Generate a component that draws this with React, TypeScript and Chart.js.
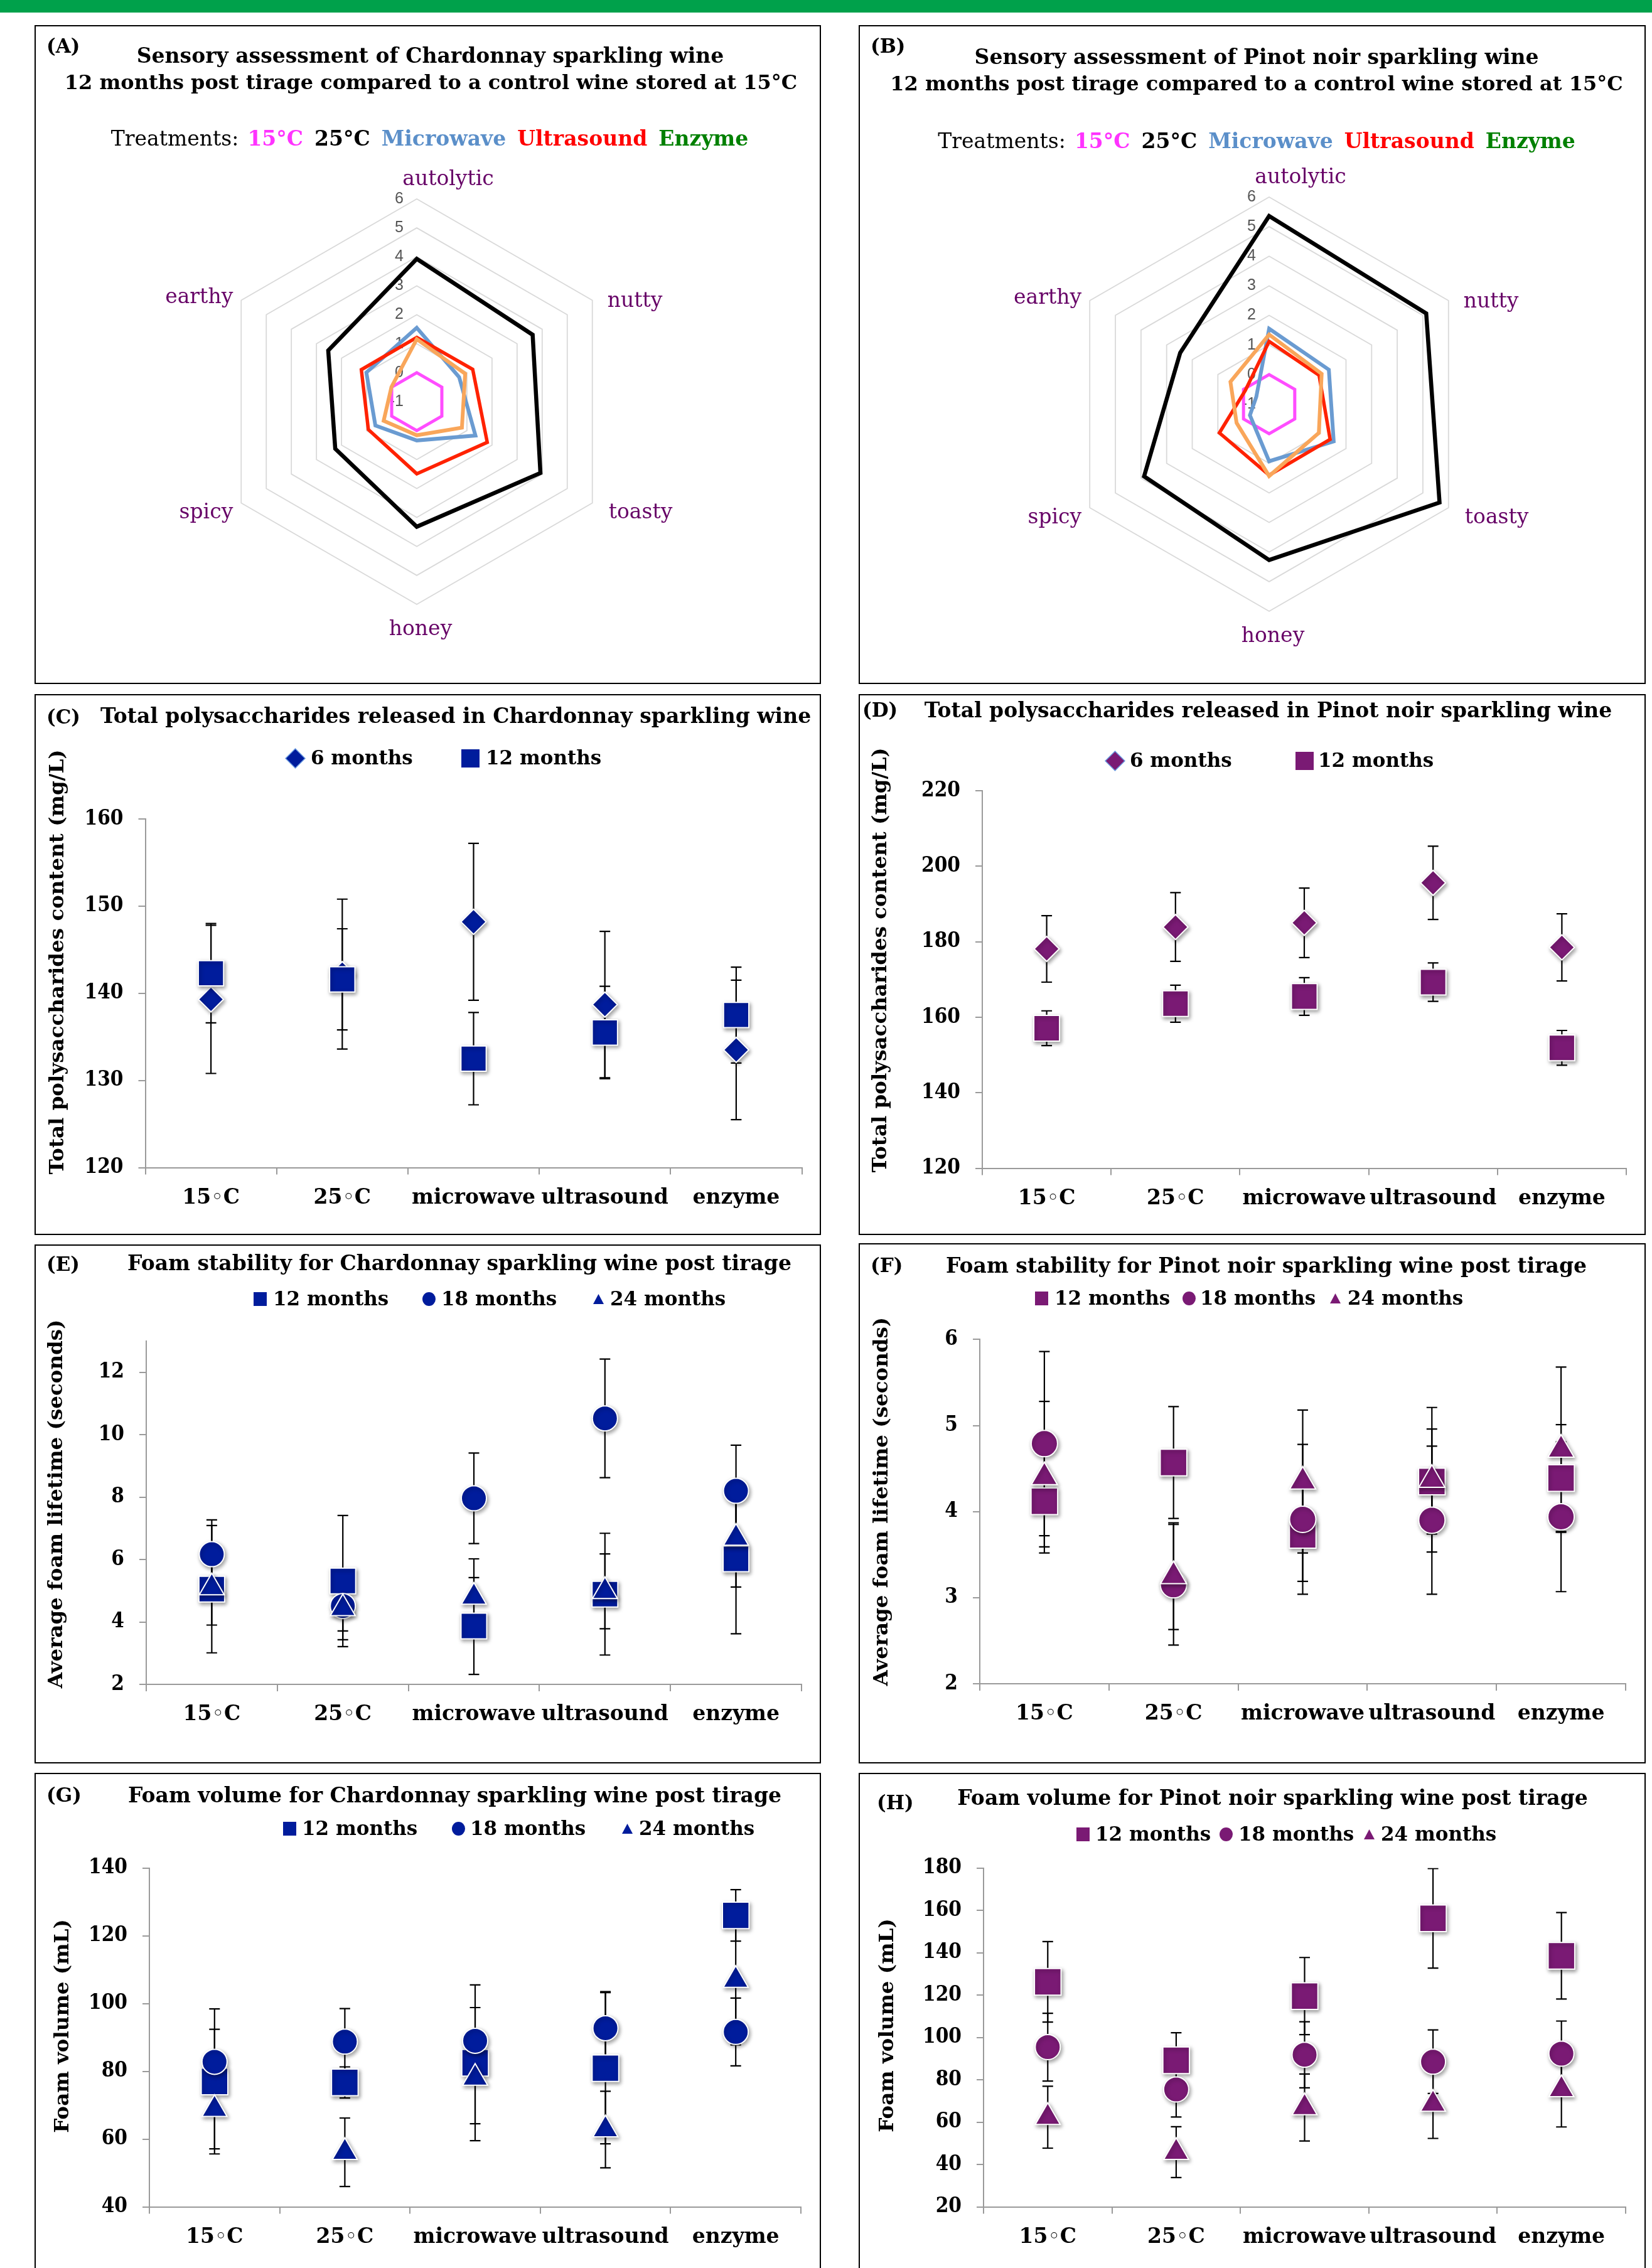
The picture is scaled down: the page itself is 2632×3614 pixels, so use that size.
import React, { useEffect, useRef } from 'react';
import { Chart, registerables } from 'chart.js';

Chart.register(...registerables);

if (typeof document !== 'undefined' && document.body) document.body.style.margin = '0';

// ================= DATA =================
const sensoryAttributes = ['autolytic', 'nutty', 'toasty', 'honey', 'spicy', 'earthy'];
const radarMin = -1;
const radarMax = 6;
const treatmentNames = ['15°C', '25°C', 'Microwave', 'Ultrasound', 'Enzyme'];

// (A) Chardonnay sensory scores
const chard15C = [0, 0, 0, 0, 0, 0];
const chard25C = [3.93, 3.62, 3.93, 3.32, 2.25, 2.53];
const chardMicrowave = [1.55, 0.69, 1.34, 0.34, 0.65, 1.01];
const chardUltrasound = [1.22, 1.23, 1.81, 1.49, 0.93, 1.21];
const chardEnzyme = [1.16, 0.93, 0.8, 0.16, 0.32, 0.01];

// (B) Pinot noir sensory scores
const pinot15C = [0, 0, 0, 0, 0, 0];
const pinot25C = [5.36, 5.13, 5.65, 4.27, 3.88, 2.47];
const pinotMicrowave = [1.55, 1.33, 1.52, 0.93, -0.25, -0.5];
const pinotUltrasound = [1.12, 0.95, 1.38, 1.4, 0.94, -0.07];
const pinotEnzyme = [1.35, 1.05, 0.94, 1.43, 0.27, 0.51];

const treatments = ['15◦C', '25◦C', 'microwave', 'ultrasound', 'enzyme'];

// (C) Chardonnay total polysaccharides (mg/L)
const chardPoly6m = [139.3, 142.2, 148.2, 138.7, 133.5];
const chardPoly6mErr = [8.5, 8.6, 9.0, 8.4, 8.0];
const chardPoly12m = [142.3, 141.6, 132.5, 135.5, 137.5];
const chardPoly12mErr = [5.7, 5.8, 5.3, 5.3, 5.5];

// (D) Pinot noir total polysaccharides (mg/L)
const pinotPoly6m = [178.1, 183.9, 185.0, 195.6, 178.5];
const pinotPoly6mErr = [8.8, 9.1, 9.2, 9.7, 8.9];
const pinotPoly12m = [157.1, 163.6, 165.5, 169.3, 151.9];
const pinotPoly12mErr = [4.6, 4.9, 5.0, 5.1, 4.6];

// (E) Chardonnay foam stability (s)
const chardStab12m = [5.05, 5.31, 3.87, 4.89, 6.02];
const chardStab12mErr = [2.04, 2.1, 1.55, 1.95, 2.4];
const chardStab18m = [6.17, 4.51, 7.96, 10.52, 8.2];
const chardStab18mErr = [1.1, 0.8, 1.45, 1.9, 1.46];
const chardStab24m = [5.1, 4.43, 4.8, 4.98, 6.69];
const chardStab24mErr = [1.2, 1.0, 1.22, 1.2, 1.57];

// (F) Pinot noir foam stability (s)
const pinotStab12m = [4.12, 4.57, 3.73, 4.35, 4.39];
const pinotStab12mErr = [0.53, 0.65, 0.54, 0.61, 0.62];
const pinotStab18m = [4.79, 3.15, 3.91, 3.9, 3.94];
const pinotStab18mErr = [1.07, 0.7, 0.87, 0.86, 0.87];
const pinotStab24m = [4.4, 3.25, 4.35, 4.37, 4.72];
const pinotStab24mErr = [0.88, 0.62, 0.83, 0.84, 0.96];

// (G) Chardonnay foam volume (mL)
const chardVol12m = [77.0, 76.7, 82.5, 80.9, 126.0];
const chardVol12mErr = [21.4, 4.6, 23.0, 22.3, 7.6];
const chardVol18m = [82.8, 88.75, 89.0, 92.7, 91.6];
const chardVol18mErr = [9.6, 9.75, 9.8, 10.8, 10.0];
const chardVol24m = [68.8, 56.1, 78.0, 62.8, 106.9];
const chardVol24mErr = [11.7, 10.1, 13.5, 11.3, 19.1];

// (H) Pinot noir foam volume (mL)
const pinotVol12m = [126.2, 89.2, 119.5, 156.2, 138.5];
const pinotVol12mErr = [19.0, 13.0, 18.2, 23.5, 20.4];
const pinotVol18m = [95.4, 75.4, 91.8, 88.5, 92.3];
const pinotVol18mErr = [16.0, 13.0, 15.6, 15.0, 15.4];
const pinotVol24m = [62.3, 45.8, 66.9, 68.5, 75.4];
const pinotVol24mErr = [14.6, 12.0, 15.8, 16.2, 17.7];

// ================= STYLE =================
const SERIF = "'DejaVu Serif', serif";
const SERIF_COND = "'DejaVu Serif Condensed', 'DejaVu Serif', serif";
const BLUE = '#001c9c';
const PURPLE = '#7a1a74';
const AXIS_GRAY = '#9a9a9a';
const radarColors = ['#ff4dff', '#000000', '#6a9bd1', '#ff2200', '#f9a65a'];
const radarWidths = [5, 6.5, 6, 5.5, 6];
const treatmentTextColors = ['#ff33ff', '#000000', '#5b8fc9', '#ff0000', '#008000'];

// ================= PLUGINS =================
const errorBarPlugin = {
  id: 'errorBars',
  beforeDatasetsDraw(chart: any) {
    const ctx = chart.ctx;
    const yScale = chart.scales.y;
    const a = chart.chartArea;
    ctx.save();
    ctx.beginPath();
    ctx.rect(a.left - 20, a.top, a.right - a.left + 40, a.bottom - a.top);
    ctx.clip();
    ctx.strokeStyle = '#000';
    ctx.lineWidth = 2.2;
    chart.data.datasets.forEach((ds: any, di: number) => {
      const errs = ds.errors;
      if (!errs) return;
      const meta = chart.getDatasetMeta(di);
      meta.data.forEach((pt: any, i: number) => {
        const v = ds.data[i];
        const e = errs[i];
        const x = pt.x;
        const y1 = yScale.getPixelForValue(v + e);
        const y2 = yScale.getPixelForValue(v - e);
        ctx.beginPath();
        ctx.moveTo(x, y1);
        ctx.lineTo(x, y2);
        ctx.moveTo(x - 8.5, y1);
        ctx.lineTo(x + 8.5, y1);
        ctx.moveTo(x - 8.5, y2);
        ctx.lineTo(x + 8.5, y2);
        ctx.stroke();
      });
    });
    ctx.restore();
  },
};

const shadowPlugin = {
  id: 'markerShadow',
  beforeDatasetDraw(chart: any) {
    const ctx = chart.ctx;
    ctx.save();
    ctx.shadowColor = 'rgba(0,0,0,0.38)';
    ctx.shadowBlur = 6;
    ctx.shadowOffsetX = 2;
    ctx.shadowOffsetY = 3;
  },
  afterDatasetDraw(chart: any) {
    chart.ctx.restore();
  },
};

// y-axis title drawn along the y scale, centred with a small shift
const yTitlePlugin = {
  id: 'yTitle',
  afterDraw(chart: any, _args: any, opts: any) {
    const s = chart.scales.y;
    const a = chart.chartArea;
    const ctx = chart.ctx;
    ctx.save();
    ctx.translate(s.left + 18, (a.top + a.bottom) / 2 + (opts.shift || 0));
    ctx.rotate(-Math.PI / 2);
    ctx.font = `bold ${opts.size}px ${SERIF}`;
    ctx.fillStyle = '#000';
    ctx.textAlign = 'center';
    ctx.textBaseline = 'middle';
    ctx.fillText(opts.text, 0, 0);
    ctx.restore();
  },
};

const radarTextPlugin = {
  id: 'radarText',
  beforeDatasetsDraw(chart: any) {
    const s = chart.scales.r;
    const ctx = chart.ctx;
    ctx.save();
    ctx.font = "25px 'Liberation Sans', sans-serif";
    ctx.fillStyle = '#555555';
    ctx.textAlign = 'right';
    ctx.textBaseline = 'middle';
    s.ticks.forEach((t: any) => {
      const p = s.getPointPositionForValue(0, t.value);
      ctx.fillText(String(t.value), p.x - 21, p.y);
    });
    ctx.restore();
  },
  afterDatasetsDraw(chart: any) {
    const s = chart.scales.r;
    const ctx = chart.ctx;
    ctx.save();
    ctx.font = "33px 'DejaVu Serif', serif";
    ctx.fillStyle = '#660066';
    ctx.textBaseline = 'middle';
    (chart.data.labels as string[]).forEach((lab, i) => {
      const v = s.getPointPosition(i, s.drawingArea);
      let x = v.x;
      let y = v.y;
      let align: CanvasTextAlign = 'center';
      if (i === 0) { x += 50; y -= 31; }
      else if (i === 1) { x += 24; y += 2; align = 'left'; }
      else if (i === 2) { x += 26; y += 16; align = 'left'; }
      else if (i === 3) { x += 6; y += 40; }
      else if (i === 4) { x -= 13; y += 16; align = 'right'; }
      else { x -= 13; y -= 4; align = 'right'; }
      ctx.textAlign = align;
      ctx.fillText(lab, x, y);
    });
    ctx.restore();
  },
};

// ================= CONFIG BUILDERS =================
interface RadarSpec {
  x: number; y: number; w: number; h: number;
  pad: { left: number; top: number; right: number; bottom: number };
  series: number[][];
}

function radarConfig(spec: RadarSpec): any {
  return {
    type: 'radar',
    data: {
      labels: sensoryAttributes,
      datasets: spec.series.map((vals, i) => ({
        label: treatmentNames[i],
        data: vals,
        borderColor: radarColors[i],
        borderWidth: radarWidths[i],
        borderJoinStyle: 'miter',
        backgroundColor: 'transparent',
        fill: false,
        pointRadius: 0,
        tension: 0,
        order: spec.series.length - i,
      })),
    },
    options: {
      animation: false,
      responsive: false,
      events: [],
      layout: { padding: spec.pad },
      plugins: { legend: { display: false }, tooltip: { enabled: false }, title: { display: false } },
      scales: {
        r: {
          min: radarMin,
          max: radarMax,
          ticks: { stepSize: 1, display: false },
          grid: { color: '#d9d9d9', lineWidth: 1.8 },
          angleLines: { display: false },
          pointLabels: { display: false },
        },
      },
    },
    plugins: [radarTextPlugin],
  };
}

interface Series { label: string; values: number[]; errors: number[]; shape: string; radius: number }
interface ScatterSpec {
  x: number; y: number; w: number; h: number;
  pl: number; pt: number; pr: number; wY: number; hX: number;
  yMin: number; yMax: number; yStep: number; yTitle: string; titleShift: number; color: string;
  evenOnly?: boolean;
  series: Series[];
}

function scatterConfig(spec: ScatterSpec): any {
  return {
    type: 'line',
    data: {
      labels: treatments,
      datasets: spec.series.map((s, i) => ({
        label: s.label,
        data: s.values,
        errors: s.errors,
        showLine: false,
        pointStyle: s.shape,
        pointRadius: s.radius,
        pointHoverRadius: s.radius,
        pointBackgroundColor: spec.color,
        pointBorderColor: '#ffffff',
        pointBorderWidth: 2,
        borderColor: spec.color,
        backgroundColor: spec.color,
        order: spec.series.length - i,
      })),
    },
    options: {
      animation: false,
      responsive: false,
      events: [],
      layout: { padding: { left: spec.pl, top: spec.pt, right: spec.pr, bottom: 0 } },
      plugins: {
        legend: { display: false },
        tooltip: { enabled: false },
        title: { display: false },
        yTitle: { text: spec.yTitle, size: 32.5, shift: spec.titleShift },
      },
      scales: {
        x: {
          type: 'category',
          offset: true,
          grid: { display: true, drawOnChartArea: false, drawTicks: true, tickLength: 11, color: AXIS_GRAY, lineWidth: 2, offset: true },
          border: { display: true, color: AXIS_GRAY, width: 2 },
          ticks: { color: '#000', font: { family: SERIF, size: 33, weight: 'bold' }, padding: 18, maxRotation: 0, autoSkip: false },
          afterFit: (sc: any) => { sc.height = spec.hX; },
        },
        y: {
          min: spec.yMin,
          max: spec.yMax,
          ticks: { stepSize: spec.yStep, color: '#000', font: { family: SERIF_COND, size: 33, weight: 'bold' }, padding: 24 },
          afterBuildTicks: (sc: any) => {
            if (spec.evenOnly) sc.ticks = sc.ticks.filter((t: any) => t.value % 2 === 0);
          },
          grid: { display: true, drawOnChartArea: false, drawTicks: true, tickLength: 11, color: AXIS_GRAY, lineWidth: 2 },
          border: { display: true, color: AXIS_GRAY, width: 2 },
          title: { display: false },
          afterFit: (sc: any) => { sc.width = spec.wY; },
        },
      },
    },
    plugins: [errorBarPlugin, shadowPlugin, yTitlePlugin],
  };
}

// ================= COMPONENTS =================
function ChartCanvas({ x, y, w, h, config }: { x: number; y: number; w: number; h: number; config: () => any }) {
  const ref = useRef<HTMLCanvasElement>(null);
  useEffect(() => {
    const chart = new Chart(ref.current as HTMLCanvasElement, config());
    return () => chart.destroy();
  }, []);
  return <canvas ref={ref} width={w} height={h} style={{ position: 'absolute', left: x, top: y, width: w, height: h }} />;
}

function Txt({ x, y, size, children, align = 'left', weight = 'bold', color = '#000', family = SERIF }: any) {
  const lh = size * 1.2;
  const style: any = {
    position: 'absolute', top: y - lh / 2, height: lh, lineHeight: lh + 'px', fontSize: size,
    fontFamily: family, fontWeight: weight, color, whiteSpace: 'nowrap',
  };
  if (align === 'center') { style.left = x - 1500; style.width = 3000; style.textAlign = 'center'; }
  else style.left = x;
  return <div style={style}>{children}</div>;
}

function Marker({ cx, cy, shape, w, h, color, stroke }: any) {
  let el: any;
  if (shape === 'rect') el = <rect x={1} y={1} width={w} height={h} fill={color} />;
  else if (shape === 'circle') el = <ellipse cx={1 + w / 2} cy={1 + h / 2} rx={w / 2} ry={h / 2} fill={color} />;
  else if (shape === 'triangle') el = <polygon points={`${1 + w / 2},1 ${1 + w},${1 + h} 1,${1 + h}`} fill={color} />;
  else el = <polygon points={`${1 + w / 2},1 ${1 + w},${1 + h / 2} ${1 + w / 2},${1 + h} 1,${1 + h / 2}`} fill={color} stroke={stroke || 'none'} strokeWidth={1.5} />;
  return (
    <svg width={w + 2} height={h + 2} style={{ position: 'absolute', left: cx - w / 2 - 1, top: cy - h / 2 - 1, overflow: 'visible' }}>
      {el}
    </svg>
  );
}

function Box({ x, y, w, h }: any) {
  return <div style={{ position: 'absolute', left: x, top: y, width: w, height: h, border: '2px solid #000', boxSizing: 'border-box', pointerEvents: 'none' }} />;
}

function TreatmentLegend({ x, y }: { x: number; y: number }) {
  return (
    <Txt x={x} y={y} size={33} align="center" weight="normal">
      <span>Treatments:</span>
      {treatmentNames.map((t, i) => (
        <span key={t} style={{ fontWeight: 'bold', color: treatmentTextColors[i], marginLeft: i === 0 ? 14 : 18 }}>{t}</span>
      ))}
    </Txt>
  );
}

// ================= PANEL SPECS =================
const radarA: RadarSpec = {
  x: 55, y: 40, w: 1253, h: 1050,
  pad: { left: 285.7, top: 276.9, right: 319.9, bottom: 125.7 },
  series: [chard15C, chard25C, chardMicrowave, chardUltrasound, chardEnzyme],
};
const radarB: RadarSpec = {
  x: 1368, y: 40, w: 1254, h: 1050,
  pad: { left: 324.1, top: 274.2, right: 269.5, bottom: 115.4 },
  series: [pinot15C, pinot25C, pinotMicrowave, pinotUltrasound, pinotEnzyme],
};

const panelC: ScatterSpec = {
  x: 55, y: 1106, w: 1253, h: 862, pl: 19.5, pt: 199, pr: 18, wY: 157, hX: 107.5,
  yMin: 120, yMax: 160, yStep: 10, yTitle: 'Total polysaccharides content (mg/L)', titleShift: -50, color: BLUE,
  series: [
    { label: '6 months', values: chardPoly6m, errors: chardPoly6mErr, shape: 'rectRot', radius: 20 },
    { label: '12 months', values: chardPoly12m, errors: chardPoly12mErr, shape: 'rect', radius: 28.5 },
  ],
};
const panelD: ScatterSpec = {
  x: 1368, y: 1106, w: 1254, h: 862, pl: 18, pt: 154, pr: 16, wY: 179, hX: 106.4,
  yMin: 120, yMax: 220, yStep: 20, yTitle: 'Total polysaccharides content (mg/L)', titleShift: -31, color: PURPLE,
  series: [
    { label: '6 months', values: pinotPoly6m, errors: pinotPoly6mErr, shape: 'rectRot', radius: 20 },
    { label: '12 months', values: pinotPoly12m, errors: pinotPoly12mErr, shape: 'rect', radius: 29 },
  ],
};
const panelE: ScatterSpec = {
  x: 55, y: 1983, w: 1253, h: 827, pl: 18, pt: 153.8, pr: 28, wY: 160, hX: 126,
  yMin: 2, yMax: 13, yStep: 2, evenOnly: true, yTitle: 'Average foam lifetime (seconds)', titleShift: -14, color: BLUE,
  series: [
    { label: '12 months', values: chardStab12m, errors: chardStab12mErr, shape: 'rect', radius: 29 },
    { label: '18 months', values: chardStab18m, errors: chardStab18mErr, shape: 'circle', radius: 20 },
    { label: '24 months', values: chardStab24m, errors: chardStab24mErr, shape: 'triangle', radius: 23 },
  ],
};
const panelF: ScatterSpec = {
  x: 1368, y: 1981, w: 1254, h: 829, pl: 20, pt: 153.4, pr: 17.5, wY: 173, hX: 127,
  yMin: 2, yMax: 6, yStep: 1, yTitle: 'Average foam lifetime (seconds)', titleShift: -16, color: PURPLE,
  series: [
    { label: '12 months', values: pinotStab12m, errors: pinotStab12mErr, shape: 'rect', radius: 30 },
    { label: '18 months', values: pinotStab18m, errors: pinotStab18mErr, shape: 'circle', radius: 21 },
    { label: '24 months', values: pinotStab24m, errors: pinotStab24mErr, shape: 'triangle', radius: 24 },
  ],
};
const panelG: ScatterSpec = {
  x: 55, y: 2825, w: 1253, h: 789, pl: 28, pt: 151.5, pr: 18, wY: 155, hX: 97.5,
  yMin: 40, yMax: 140, yStep: 20, yTitle: 'Foam volume (mL)', titleShift: -18, color: BLUE,
  series: [
    { label: '12 months', values: chardVol12m, errors: chardVol12mErr, shape: 'rect', radius: 30 },
    { label: '18 months', values: chardVol18m, errors: chardVol18mErr, shape: 'circle', radius: 20 },
    { label: '24 months', values: chardVol24m, errors: chardVol24mErr, shape: 'triangle', radius: 23 },
  ],
};
const panelH: ScatterSpec = {
  x: 1368, y: 2825, w: 1254, h: 789, pl: 28.6, pt: 151.5, pr: 17.5, wY: 170.4, hX: 97.5,
  yMin: 20, yMax: 180, yStep: 20, yTitle: 'Foam volume (mL)', titleShift: -19, color: PURPLE,
  series: [
    { label: '12 months', values: pinotVol12m, errors: pinotVol12mErr, shape: 'rect', radius: 30 },
    { label: '18 months', values: pinotVol18m, errors: pinotVol18mErr, shape: 'circle', radius: 20 },
    { label: '24 months', values: pinotVol24m, errors: pinotVol24mErr, shape: 'triangle', radius: 23 },
  ],
};

function Legend3({ y, color, pos }: { y: number; color: string; pos: number[] }) {
  const labels = ['12 months', '18 months', '24 months'];
  const shapes = ['rect', 'circle', 'triangle'];
  const sizes = [[21, 22], [21, 22], [17, 16]];
  return (
    <>
      {labels.map((l, i) => (
        <React.Fragment key={l}>
          <Marker cx={pos[i * 2]} cy={y} shape={shapes[i]} w={sizes[i][0]} h={sizes[i][1]} color={color} />
          <Txt x={pos[i * 2 + 1]} y={y} size={31}>{l}</Txt>
        </React.Fragment>
      ))}
    </>
  );
}

function Legend2({ y, color, pos, stroke }: { y: number; color: string; pos: number[]; stroke: string }) {
  return (
    <>
      <Marker cx={pos[0]} cy={y} shape="diamond" w={31} h={31} color={color} stroke={stroke} />
      <Txt x={pos[1]} y={y} size={31}>6 months</Txt>
      <Marker cx={pos[2]} cy={y} shape="rect" w={29} h={29} color={color} />
      <Txt x={pos[3]} y={y} size={31}>12 months</Txt>
    </>
  );
}

export default function App() {
  useEffect(() => {
    document.body.style.margin = '0';
  }, []);
  return (
    <div style={{ position: 'relative', width: 2632, height: 3614, overflow: 'hidden', background: '#ffffff' }}>
      <div style={{ position: 'absolute', left: 0, top: 0, width: 2632, height: 20, background: '#00a14b' }} />

      {/* Radar A */}
      <ChartCanvas x={radarA.x} y={radarA.y} w={radarA.w} h={radarA.h} config={() => radarConfig(radarA)} />
      <Box x={55} y={40} w={1253} h={1050} />
      <Txt x={74} y={74} size={31}>(A)</Txt>
      <Txt x={685.5} y={89} size={33} align="center">Sensory assessment of Chardonnay sparkling wine</Txt>
      <Txt x={686.5} y={131} size={32} align="center">12 months post tirage compared to a control wine stored at 15°C</Txt>
      <TreatmentLegend x={684.5} y={221} />

      {/* Radar B */}
      <ChartCanvas x={radarB.x} y={radarB.y} w={radarB.w} h={radarB.h} config={() => radarConfig(radarB)} />
      <Box x={1368} y={40} w={1254} h={1050} />
      <Txt x={1387} y={74} size={31}>(B)</Txt>
      <Txt x={2002} y={91} size={33} align="center">Sensory assessment of Pinot noir sparkling wine</Txt>
      <Txt x={2002} y={133} size={32} align="center">12 months post tirage compared to a control wine stored at 15°C</Txt>
      <TreatmentLegend x={2002} y={224.6} />

      {/* C */}
      <ChartCanvas x={panelC.x} y={panelC.y} w={panelC.w} h={panelC.h} config={() => scatterConfig(panelC)} />
      <Box x={55} y={1106} w={1253} h={862} />
      <Txt x={74} y={1143} size={31}>(C)</Txt>
      <Txt x={726} y={1140.5} size={33} align="center">Total polysaccharides released in Chardonnay sparkling wine</Txt>
      <Legend2 y={1208} color={BLUE} pos={[470.5, 495, 749.5, 774]} stroke="#6a9ae0" />

      {/* D */}
      <ChartCanvas x={panelD.x} y={panelD.y} w={panelD.w} h={panelD.h} config={() => scatterConfig(panelD)} />
      <Box x={1368} y={1106} w={1254} h={862} />
      <Txt x={1374} y={1132} size={31}>(D)</Txt>
      <Txt x={2020.5} y={1132} size={33} align="center">Total polysaccharides released in Pinot noir sparkling wine</Txt>
      <Legend2 y={1212} color={PURPLE} pos={[1776.5, 1800, 2078.5, 2100]} stroke="#6a9ae0" />

      {/* E */}
      <ChartCanvas x={panelE.x} y={panelE.y} w={panelE.w} h={panelE.h} config={() => scatterConfig(panelE)} />
      <Box x={55} y={1983} w={1253} h={827} />
      <Txt x={74} y={2015} size={31}>(E)</Txt>
      <Txt x={732} y={2013} size={33} align="center">Foam stability for Chardonnay sparkling wine post tirage</Txt>
      <Legend3 y={2069.7} color={BLUE} pos={[414.5, 435, 683.5, 703, 953.5, 972]} />

      {/* F */}
      <ChartCanvas x={panelF.x} y={panelF.y} w={panelF.w} h={panelF.h} config={() => scatterConfig(panelF)} />
      <Box x={1368} y={1981} w={1254} h={829} />
      <Txt x={1387} y={2016.5} size={31}>(F)</Txt>
      <Txt x={2017.5} y={2016.5} size={33} align="center">Foam stability for Pinot noir sparkling wine post tirage</Txt>
      <Legend3 y={2068.6} color={PURPLE} pos={[1659.5, 1680, 1894, 1912, 2127.5, 2147]} />

      {/* G */}
      <ChartCanvas x={panelG.x} y={panelG.y} w={panelG.w} h={panelG.h} config={() => scatterConfig(panelG)} />
      <Box x={55} y={2825} w={1253} h={900} />
      <Txt x={74} y={2861} size={31}>(G)</Txt>
      <Txt x={724.5} y={2861} size={33} align="center">Foam volume for Chardonnay sparkling wine post tirage</Txt>
      <Legend3 y={2914} color={BLUE} pos={[461.5, 481, 730.5, 749, 999.5, 1018]} />

      {/* H */}
      <ChartCanvas x={panelH.x} y={panelH.y} w={panelH.w} h={panelH.h} config={() => scatterConfig(panelH)} />
      <Box x={1368} y={2825} w={1254} h={900} />
      <Txt x={1397} y={2873} size={31}>(H)</Txt>
      <Txt x={2027.5} y={2865} size={33} align="center">Foam volume for Pinot noir sparkling wine post tirage</Txt>
      <Legend3 y={2923} color={PURPLE} pos={[1725.5, 1745, 1953.5, 1973, 2181.5, 2200]} />
    </div>
  );
}
